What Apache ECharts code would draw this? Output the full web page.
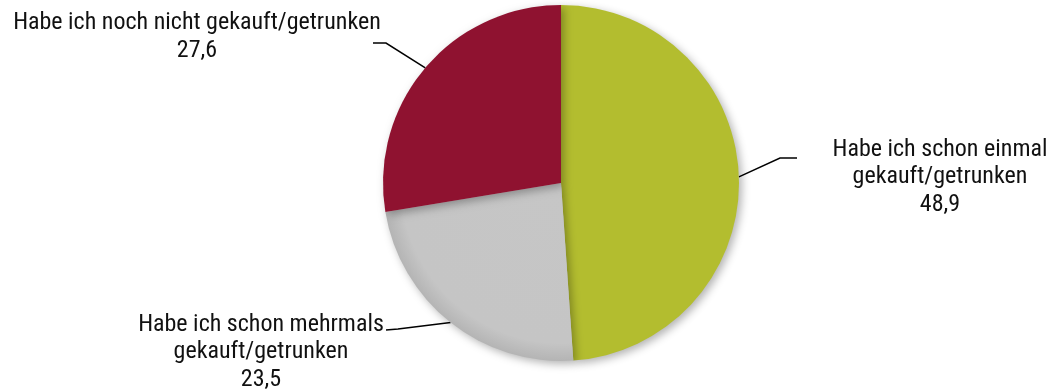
<!DOCTYPE html>
<html>
<head>
<meta charset="utf-8">
<script src="https://cdn.jsdelivr.net/npm/echarts@6/dist/echarts.min.js"></script>
<style>
  html, body { margin: 0; padding: 0; background: #fff; }
  #chart { width: 1054px; height: 391px; }
</style>
</head>
<body>
<div id="chart"></div>
<script>
// Purchase / consumption experience (share in %)
const categories = [
  'Habe ich schon einmal\ngekauft/getrunken',
  'Habe ich schon mehrmals\ngekauft/getrunken',
  'Habe ich noch nicht gekauft/getrunken'
];
const values = [48.9, 23.5, 27.6];

const CX = 561, CY = 183, R = 178;

// Grey slice gets a soft darker rim
const greyFill = {
  type: 'radial', x: CX, y: CY, r: R, global: true,
  colorStops: [
    { offset: 0, color: '#c6c6c6' },
    { offset: 0.9, color: '#c5c5c5' },
    { offset: 1, color: '#b4b4b4' }
  ]
};
const colors = ['#b3bd2f', greyFill, '#8f1230'];

// Label placement: centre of text block and leader line bend/end
const labelPos = [
  { x: 940, y: 177, line: [[780, 158], [797, 158]] },
  { x: 261, y: 352, line: [[398, 329], [386, 330]] },
  { x: 197, y: 37,  line: [[386, 43], [373, 43]] }
];

const fmt = v => v.toFixed(1).replace('.', ',');

const chart = echarts.init(document.getElementById('chart'));
chart.setOption({
  backgroundColor: '#ffffff',
  animation: false,
  series: [{
    type: 'pie',
    center: [CX, CY],
    radius: R,
    startAngle: 90,
    clockwise: true,
    data: values.map((v, i) => ({
      name: categories[i],
      value: v,
      itemStyle: { color: colors[i] }
    })),
    itemStyle: {
      shadowBlur: 8,
      shadowOffsetX: 3,
      shadowOffsetY: 3,
      shadowColor: 'rgba(0,0,0,0.3)'
    },
    label: {
      show: true,
      formatter: p => p.name + '\n' + fmt(p.value),
      fontFamily: "'Roboto Condensed', 'Liberation Sans Narrow', Roboto, sans-serif",
      fontSize: 24,
      lineHeight: 27.5,
      color: '#111',
      align: 'center'
    },
    labelLine: {
      show: true,
      lineStyle: { color: '#000', width: 1.5 }
    },
    labelLayout: function (params) {
      const pos = labelPos[params.dataIndex];
      const anchor = params.labelLinePoints ? params.labelLinePoints[0] : null;
      const out = {
        x: pos.x,
        y: pos.y,
        align: 'center',
        verticalAlign: 'middle'
      };
      if (anchor) out.labelLinePoints = [anchor, pos.line[0], pos.line[1]];
      return out;
    }
  }]
});
</script>
</body>
</html>
